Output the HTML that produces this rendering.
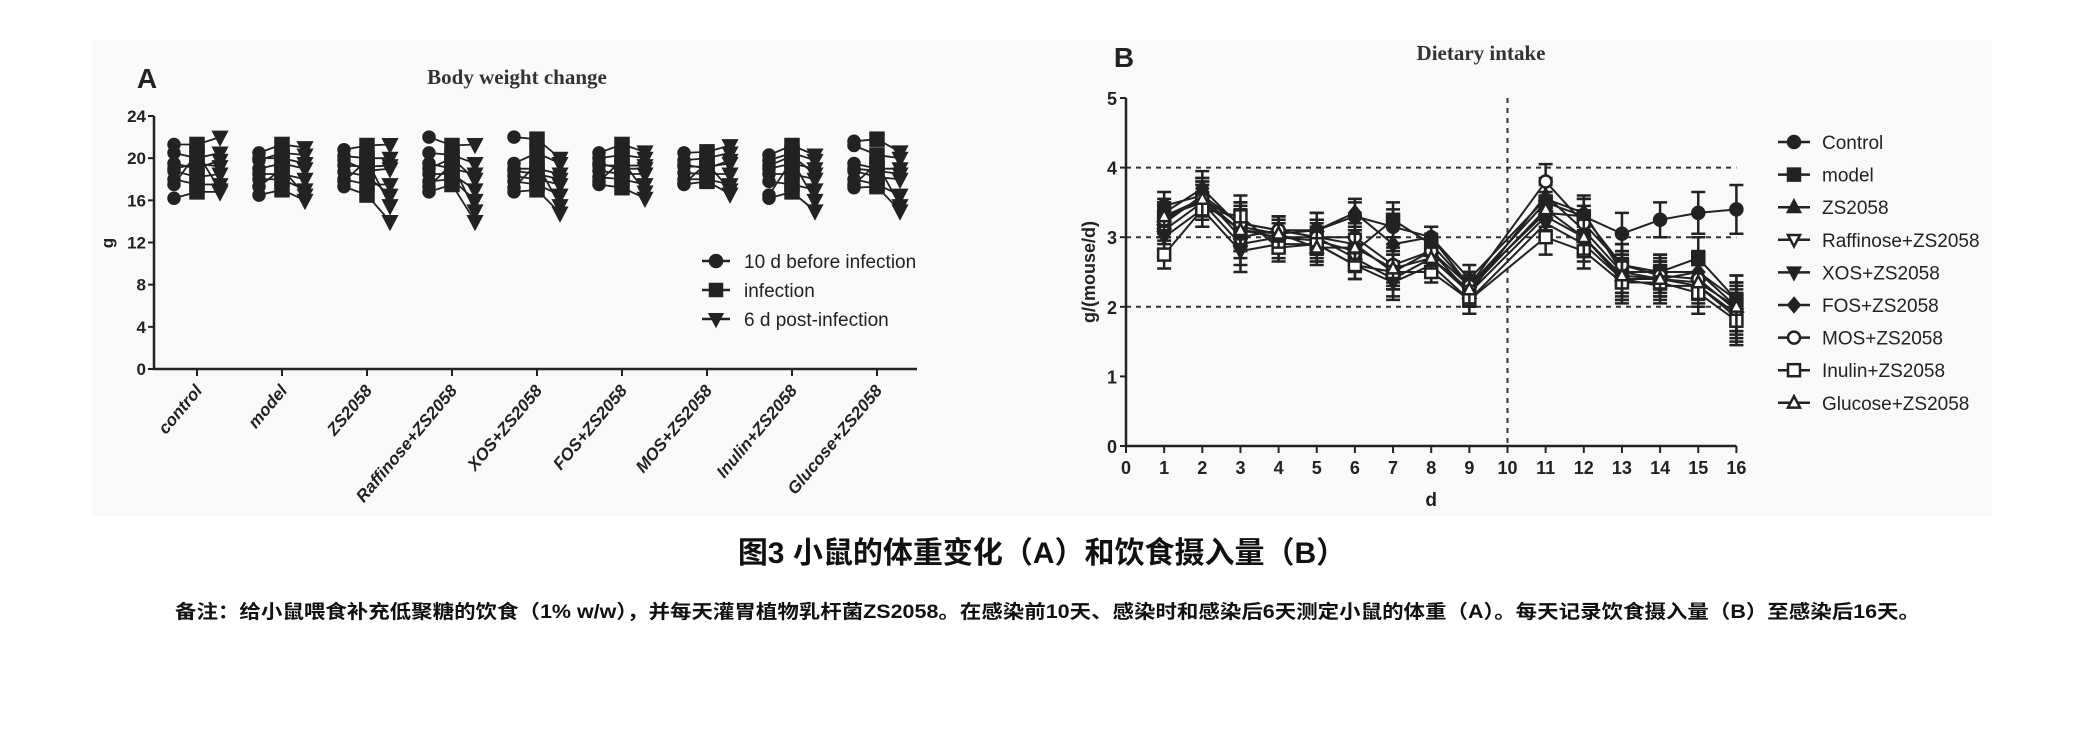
<!DOCTYPE html>
<html><head><meta charset="utf-8"><style>
body{margin:0;background:#fff;}
svg{display:block;font-family:"Liberation Sans","Noto Sans CJK SC",sans-serif;}
</style></head><body>
<svg id="fig" width="2085" height="750" viewBox="0 0 2085 750">
<rect x="0" y="0" width="2085" height="750" fill="#fff"/>
<rect x="92" y="40" width="1900" height="476" fill="#f9f9f9"/>
<g id="chartA"></g>
<g id="chartB"></g>
<text x="1042" y="563" text-anchor="middle" font-size="30" font-weight="bold" fill="#111">图3 小鼠的体重变化（A）和饮食摄入量（B）</text>
<text x="175" y="618" font-size="19" font-weight="bold" fill="#111" textLength="1745" lengthAdjust="spacingAndGlyphs">备注：给小鼠喂食补充低聚糖的饮食（1% w/w），并每天灌胃植物乳杆菌ZS2058。在感染前10天、感染时和感染后6天测定小鼠的体重（A）。每天记录饮食摄入量（B）至感染后16天。</text>
</svg>
<script>
// ---------- Chart A data ----------
const groupsA = ["control","model","ZS2058","Raffinose+ZS2058","XOS+ZS2058","FOS+ZS2058","MOS+ZS2058","Inulin+ZS2058","Glucose+ZS2058"];
const ticksA = [0,4,8,12,16,20,24];
const beforeA = [
 [16.2,21.3,20.5,19.5,18.8,18.0,17.5,19.0],
 [16.5,20.5,19.8,19.0,18.5,18.0,17.3,20.0],
 [17.3,20.8,20.2,19.3,18.7,18.0,17.8,19.8],
 [16.8,22.0,20.5,19.5,18.5,17.8,17.3,19.0],
 [16.8,22.0,19.5,19.0,18.3,17.8,17.2,18.8],
 [17.5,20.5,20.0,19.3,18.8,18.2,17.8,19.5],
 [17.5,20.5,19.8,19.2,18.6,18.0,17.6,19.4],
 [16.2,20.3,19.8,19.0,18.5,17.8,16.5,19.3],
 [17.2,21.6,21.2,19.5,18.8,18.0,17.5,19.0]];
const infectionA = [
 [16.8,21.3,20.0,19.0,18.2,17.5,20.5,19.5],
 [17.0,21.3,20.5,19.5,18.5,18.0,19.0,20.0],
 [16.5,21.2,20.0,19.2,18.3,17.5,19.8,18.8],
 [17.5,21.2,20.3,19.0,18.5,18.0,19.5,20.0],
 [17.0,21.8,20.5,19.0,18.0,17.5,19.5,18.5],
 [17.2,21.3,20.3,19.3,18.5,18.0,19.8,19.0],
 [17.8,20.6,20.0,19.2,18.5,18.0,19.5,19.0],
 [16.8,21.2,20.5,19.5,18.5,17.5,19.8,20.2],
 [17.3,21.8,20.3,19.0,18.2,17.5,19.5,18.8]];
const postA = [
 [16.8,22.0,20.5,19.8,18.5,17.5,17.0,19.2],
 [16.0,21.0,20.3,19.0,18.0,17.0,16.5,19.5],
 [14.0,21.3,20.0,19.3,16.5,17.5,15.5,19.0],
 [14.0,21.3,19.5,18.5,17.0,16.0,15.0,18.0],
 [14.8,20.0,19.5,18.5,17.5,16.5,15.5,18.0],
 [16.2,20.6,20.0,19.3,18.5,17.5,16.8,19.0],
 [16.6,21.2,20.5,19.5,18.5,17.5,17.0,19.8],
 [15.0,20.3,19.8,19.0,18.0,17.0,16.0,18.5],
 [15.0,20.6,20.0,19.0,18.0,16.5,15.5,18.5]];
// ---------- Chart B data ----------
const daysB = [1,2,3,4,5,6,7,8,9,11,12,13,14,15,16];
const xTicksB = [0,1,2,3,4,5,6,7,8,9,10,11,12,13,14,15,16];
const yTicksB = [0,1,2,3,4,5];
const seriesNamesB = ["Control","model","ZS2058","Raffinose+ZS2058","XOS+ZS2058","FOS+ZS2058","MOS+ZS2058","Inulin+ZS2058","Glucose+ZS2058"];
const controlB = [3.45,3.6,3.2,3.1,3.1,3.3,3.15,3.0,2.3,3.35,3.3,3.05,3.25,3.35,3.4];
const modelB = [3.3,3.5,3.1,3.0,2.95,2.8,3.25,2.9,2.3,3.5,3.3,2.6,2.5,2.7,2.1];
const zsB = [3.2,3.6,3.0,3.1,3.0,2.9,2.5,2.8,2.2,3.6,3.1,2.5,2.4,2.5,2.0];
const raffB = [3.1,3.5,2.9,3.0,3.0,2.7,2.4,2.7,2.2,3.3,3.0,2.4,2.4,2.3,1.9];
const xosB = [3.0,3.4,2.8,2.9,2.9,2.6,2.35,2.6,2.1,3.2,2.9,2.4,2.3,2.3,1.85];
const fosB = [3.35,3.7,3.15,3.05,3.1,3.35,2.9,3.0,2.4,3.55,3.35,2.5,2.5,2.5,2.1];
const mosB = [3.25,3.55,3.2,3.1,3.0,3.0,2.6,2.8,2.3,3.8,3.2,2.6,2.45,2.4,1.95];
const inulinB = [2.75,3.4,3.3,2.85,2.9,2.6,2.5,2.5,2.1,3.0,2.8,2.35,2.35,2.2,1.8];
const glucoseB = [3.3,3.55,3.1,3.05,2.85,2.85,2.55,2.7,2.25,3.4,3.0,2.45,2.4,2.35,2.0];
const errB = [0.2,0.25,0.3,0.2,0.25,0.2,0.25,0.15,0.2,0.25,0.25,0.3,0.25,0.3,0.35];

const NS="http://www.w3.org/2000/svg";
function mk(tag,attrs,parent){const e=document.createElementNS(NS,tag);for(const k in attrs)e.setAttribute(k,attrs[k]);parent.appendChild(e);return e;}

function marker(parent,type,x,y,r){
  let e;
  const fill = type.open ? "#fff" : "#222";
  if(type.shape==="circle") e=mk("circle",{cx:x,cy:y,r:r,fill:fill,stroke:"#222","stroke-width":2.5},parent);
  else if(type.shape==="square") e=mk("rect",{x:x-r,y:y-r,width:2*r,height:2*r,fill:fill,stroke:"#222","stroke-width":2.5},parent);
  else if(type.shape==="up") e=mk("polygon",{points:`${x},${y-r*1.1} ${x-r},${y+r*0.8} ${x+r},${y+r*0.8}`,fill:fill,stroke:"#222","stroke-width":2.5},parent);
  else if(type.shape==="down") e=mk("polygon",{points:`${x},${y+r*1.1} ${x-r},${y-r*0.8} ${x+r},${y-r*0.8}`,fill:fill,stroke:"#222","stroke-width":2.5},parent);
  else e=mk("polygon",{points:`${x},${y-r*1.2} ${x+r},${y} ${x},${y+r*1.2} ${x-r},${y}`,fill:fill,stroke:"#222","stroke-width":2},parent);
  return e;
}

// ---------- Chart A ----------
(function(){
  const g=document.getElementById("chartA");
  const X0=154, Y0=369, Y24=116, XEND=917, first=197, step=85, off=23;
  const y=v=>Y0-(v/24)*(Y0-Y24);
  const xc=i=>first+i*step;
  let t=mk("text",{x:147,y:88,"font-size":28,"font-weight":"bold",fill:"#222","text-anchor":"middle"},g);t.textContent="A";
  
  
  t=mk("text",{x:517,y:84,"font-size":21,"font-weight":"bold","font-family":"Liberation Serif, serif",fill:"#333","text-anchor":"middle"},g);t.textContent="Body weight change";
  
  
  t=mk("text",{x:0,y:0,"font-size":17,"font-weight":"bold",fill:"#222","text-anchor":"middle",transform:`translate(113,243) rotate(-90)`},g);t.textContent="g";
  
  
  let ax=mk("path",{d:`M${X0},${Y24} V${Y0} H${XEND}`,stroke:"#222","stroke-width":2.5,fill:"none"},g);
  
  
  ticksA.forEach(v=>{
    mk("line",{x1:X0-6,x2:X0,y1:y(v),y2:y(v),stroke:"#222","stroke-width":2},g);
    const tt=mk("text",{x:X0-8,y:y(v)+6,"font-size":17,"font-weight":"bold",fill:"#222","text-anchor":"end"},g);
    tt.textContent=v;
    
    
  });
  groupsA.forEach((name,i)=>{
    const cx=xc(i);
    mk("line",{x1:cx,x2:cx,y1:Y0,y2:Y0+7,stroke:"#222","stroke-width":2},g);
    const lb=mk("text",{x:0,y:0,"font-size":17,"font-weight":"bold","font-style":"italic",fill:"#222","text-anchor":"end",transform:`translate(${cx+6},${Y0+22}) rotate(-50)`},g);
    lb.textContent=name;
    
    
    const grp=mk("g",{},g);
    
    
    for(let m=0;m<beforeA[i].length;m++){
      mk("polyline",{points:`${cx-off},${y(beforeA[i][m])} ${cx},${y(infectionA[i][m])} ${cx+off},${y(postA[i][m])}`,fill:"none",stroke:"#222","stroke-width":1.8},grp);
    }
    for(let m=0;m<beforeA[i].length;m++){
      marker(grp,{shape:"circle"},cx-off,y(beforeA[i][m]),5.5);
      marker(grp,{shape:"square"},cx,y(infectionA[i][m]),6.5);
      marker(grp,{shape:"down"},cx+off,y(postA[i][m]),6.5);
    }
  });
  const leg=[["circle","10 d before infection"],["square","infection"],["down","6 d post-infection"]];
  leg.forEach((l,k)=>{
    const ly=261+k*29;
    const lg=mk("g",{},g);
    
    
    mk("line",{x1:702,x2:730,y1:ly,y2:ly,stroke:"#222","stroke-width":2.5},lg);
    marker(lg,{shape:l[0]},716,ly,6);
    const tx=mk("text",{x:744,y:ly+7,"font-size":19,fill:"#222"},lg);tx.textContent=l[1];
  });
})();

// ---------- Chart B ----------
(function(){
  const g=document.getElementById("chartB");
  const X0=1126, XS=38.15, Y0=446, YS=69.6;
  const x=d=>X0+d*XS, y=v=>Y0-v*YS;
  let t=mk("text",{x:1124,y:67,"font-size":28,"font-weight":"bold",fill:"#222","text-anchor":"middle"},g);t.textContent="B";
  
  
  t=mk("text",{x:1481,y:60,"font-size":21,"font-weight":"bold","font-family":"Liberation Serif, serif",fill:"#333","text-anchor":"middle"},g);t.textContent="Dietary intake";
  
  
  t=mk("text",{x:0,y:0,"font-size":18,"font-weight":"bold",fill:"#222","text-anchor":"middle",transform:`translate(1095,272) rotate(-90)`},g);t.textContent="g/(mouse/d)";
  
  
  t=mk("text",{x:x(8),y:Y0+60,"font-size":19,"font-weight":"bold",fill:"#222","text-anchor":"middle"},g);t.textContent="d";
  
  
  [2,3,4].forEach(v=>{
    const gl=mk("line",{x1:X0,x2:x(16),y1:y(v),y2:y(v),stroke:"#333","stroke-width":2,"stroke-dasharray":"5,5"},g);
    
    
  });
  const vl=mk("line",{x1:x(10),x2:x(10),y1:y(5),y2:Y0,stroke:"#333","stroke-width":2,"stroke-dasharray":"5,5"},g);
  
  
  const ax=mk("path",{d:`M${X0},${y(5)} V${Y0} H${x(16)}`,stroke:"#222","stroke-width":2.5,fill:"none"},g);
  
  
  yTicksB.forEach(v=>{
    mk("line",{x1:X0-6,x2:X0,y1:y(v),y2:y(v),stroke:"#222","stroke-width":2},g);
    const tt=mk("text",{x:X0-9,y:y(v)+7,"font-size":18,"font-weight":"bold",fill:"#222","text-anchor":"end"},g);
    tt.textContent=v;
    
    
  });
  xTicksB.forEach(v=>{
    mk("line",{x1:x(v),x2:x(v),y1:Y0,y2:Y0+7,stroke:"#222","stroke-width":2},g);
    const tt=mk("text",{x:x(v),y:Y0+28,"font-size":18,"font-weight":"bold",fill:"#222","text-anchor":"middle"},g);
    tt.textContent=v;
    
    
  });
  const data=[controlB,modelB,zsB,raffB,xosB,fosB,mosB,inulinB,glucoseB];
  const types=[{shape:"circle"},{shape:"square"},{shape:"up"},{shape:"down",open:true},{shape:"down"},{shape:"diamond"},{shape:"circle",open:true},{shape:"square",open:true},{shape:"up",open:true}];
  data.forEach((s,si)=>{
    const sg=mk("g",{},g);
    
    
    mk("polyline",{points:s.map((v,k)=>`${x(daysB[k])},${y(v)}`).join(" "),fill:"none",stroke:"#222","stroke-width":2},sg);
    s.forEach((v,k)=>{
      const px=x(daysB[k]), e=errB[k];
      mk("path",{d:`M${px},${y(v-e)} V${y(v+e)} M${px-7},${y(v-e)} H${px+7} M${px-7},${y(v+e)} H${px+7}`,stroke:"#222","stroke-width":2.5,fill:"none"},sg);
      marker(sg,types[si],px,y(v),6);
    });
  });
  seriesNamesB.forEach((n,k)=>{
    const ly=142+k*32.6;
    const lg=mk("g",{},g);
    
    
    mk("line",{x1:1778,x2:1810,y1:ly,y2:ly,stroke:"#222","stroke-width":2.5},lg);
    marker(lg,types[k],1794,ly,6);
    const tx=mk("text",{x:1822,y:ly+7,"font-size":19,fill:"#222"},lg);tx.textContent=n;
  });
})();
</script>
</body></html>
